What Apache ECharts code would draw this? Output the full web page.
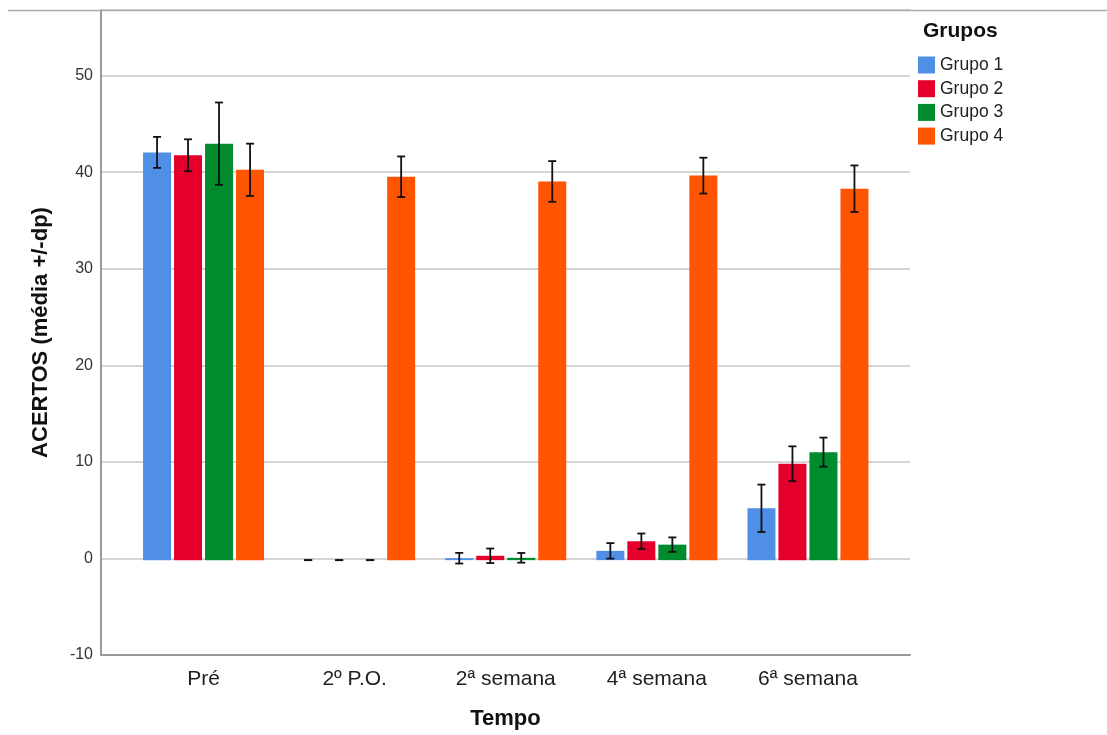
<!DOCTYPE html>
<html>
<head>
<meta charset="utf-8">
<script src="https://cdn.jsdelivr.net/npm/echarts@6/dist/echarts.min.js"></script>
<style>
html,body{margin:0;padding:0;background:#fff;}
#chart{width:1107px;height:735px;}
</style>
</head>
<body>
<div id="chart"></div>
<script>
// ---- data ----
var categories = ['Pré', '2º P.O.', '2ª semana', '4ª semana', '6ª semana'];
var groupNames = ['Grupo 1', 'Grupo 2', 'Grupo 3', 'Grupo 4'];
var grupo1Mean = [42.1, 0, 0.2, 0.96, 5.35];
var grupo1Sd   = [1.6, 0, 0.55, 0.8, 2.45];
var grupo2Mean = [41.8, 0, 0.45, 1.95, 9.95];
var grupo2Sd   = [1.65, 0, 0.75, 0.8, 1.8];
var grupo3Mean = [43.0, 0, 0.24, 1.6, 11.15];
var grupo3Sd   = [4.25, 0, 0.5, 0.75, 1.5];
var grupo4Mean = [40.3, 39.58, 39.1, 39.7, 38.35];
var grupo4Sd   = [2.7, 2.1, 2.1, 1.85, 2.4];
var yTicks = [-10, 0, 10, 20, 30, 40, 50];

var means = [grupo1Mean, grupo2Mean, grupo3Mean, grupo4Mean];
var sds = [grupo1Sd, grupo2Sd, grupo3Sd, grupo4Sd];
var colors = ['#4F8FE6', '#E4002B', '#008B2E', '#FF5500'];
var FONT = 'Liberation Sans, Arial, Helvetica, sans-serif';

var BAR_W = 28, BAR_STEP = 31;

var series = [];
for (var i = 0; i < 4; i++) {
  series.push({
    name: groupNames[i],
    type: 'bar',
    xAxisIndex: 1, yAxisIndex: 1,
    barWidth: BAR_W,
    barGap: (3 / BAR_W * 100) + '%',
    itemStyle: { color: colors[i] },
    data: means[i],
    z: 2
  });
}
for (var j = 0; j < 4; j++) {
  (function (k) {
    var errData = means[k].map(function (m, idx) {
      return [idx, m - sds[k][idx], m + sds[k][idx]];
    });
    series.push({
      name: 'err' + k,
      type: 'custom',
      xAxisIndex: 1, yAxisIndex: 1,
      data: errData,
      encode: { x: 0, y: [1, 2] },
      z: 5,
      silent: true,
      renderItem: function (params, api) {
        var off = (k - 1.5) * BAR_STEP;
        var lo = api.coord([api.value(0), api.value(1)]);
        var hi = api.coord([api.value(0), api.value(2)]);
        var x = lo[0] + off;
        var cap = 4;
        var st = { stroke: '#111', lineWidth: 1.8 };
        return {
          type: 'group',
          children: [
            { type: 'line', shape: { x1: x, y1: lo[1], x2: x, y2: hi[1] }, style: st },
            { type: 'line', shape: { x1: x - cap, y1: lo[1], x2: x + cap, y2: lo[1] }, style: st },
            { type: 'line', shape: { x1: x - cap, y1: hi[1], x2: x + cap, y2: hi[1] }, style: st }
          ]
        };
      }
    });
  })(j);
}

var chart = echarts.init(document.getElementById('chart'), null, { renderer: 'canvas' });
chart.setOption({
  animation: false,
  backgroundColor: '#fff',
  textStyle: { fontFamily: FONT },
  title: {
    text: 'Grupos',
    left: 918, top: 16,
    textStyle: { fontFamily: FONT, fontSize: 21, fontWeight: 'bold', color: '#111' }
  },
  legend: {
    data: groupNames,
    orient: 'vertical',
    left: 918, top: 56,
    padding: 0,
    icon: 'rect',
    itemWidth: 17, itemHeight: 17,
    itemGap: 5.7,
    textStyle: { fontFamily: FONT, fontSize: 17.5, color: '#222' }
  },
  grid: [
    { left: 101, right: 197, top: 10, bottom: 78 },
    { left: 128, right: 223.5, top: 10, bottom: 78 }
  ],
  xAxis: [
    {
      type: 'value', gridIndex: 0, min: 0, max: 1,
      axisLine: { show: true, onZero: false, lineStyle: { color: '#9a9a9a', width: 2 } },
      axisTick: { show: false }, axisLabel: { show: false }, splitLine: { show: false },
      name: 'Tempo', nameLocation: 'middle', nameGap: 53,
      nameTextStyle: { fontFamily: FONT, fontSize: 22, fontWeight: 'bold', color: '#111' }
    },
    {
      type: 'category', gridIndex: 1, data: categories,
      axisLine: { show: false }, axisTick: { show: false },
      axisLabel: { margin: 12, fontFamily: FONT, fontSize: 21, color: '#222' },
      splitLine: { show: false }
    }
  ],
  yAxis: [
    {
      type: 'value', gridIndex: 0,
      min: yTicks[0], max: 56.8, interval: 10,
      axisLine: { show: true, onZero: false, lineStyle: { color: '#9a9a9a', width: 2 } },
      axisTick: { show: false },
      axisLabel: { margin: 8, fontFamily: FONT, fontSize: 16, color: '#333', showMaxLabel: false },
      splitLine: { show: true, lineStyle: { color: '#c6c6c6', width: 1.5 } },
      name: 'ACERTOS (média +/-dp)', nameLocation: 'middle', nameGap: 49,
      nameTextStyle: { fontFamily: FONT, fontSize: 22, fontWeight: 'bold', color: '#111' }
    },
    {
      type: 'value', gridIndex: 1,
      min: yTicks[0], max: 56.8, interval: 10,
      show: false
    }
  ],
  graphic: [
    {
      type: 'line', z: 100,
      shape: { x1: 8, y1: 10.5, x2: 1107, y2: 10.5 },
      style: { stroke: '#aaaaaa', lineWidth: 1.5 }
    }
  ],
  series: series
});
</script>
</body>
</html>
